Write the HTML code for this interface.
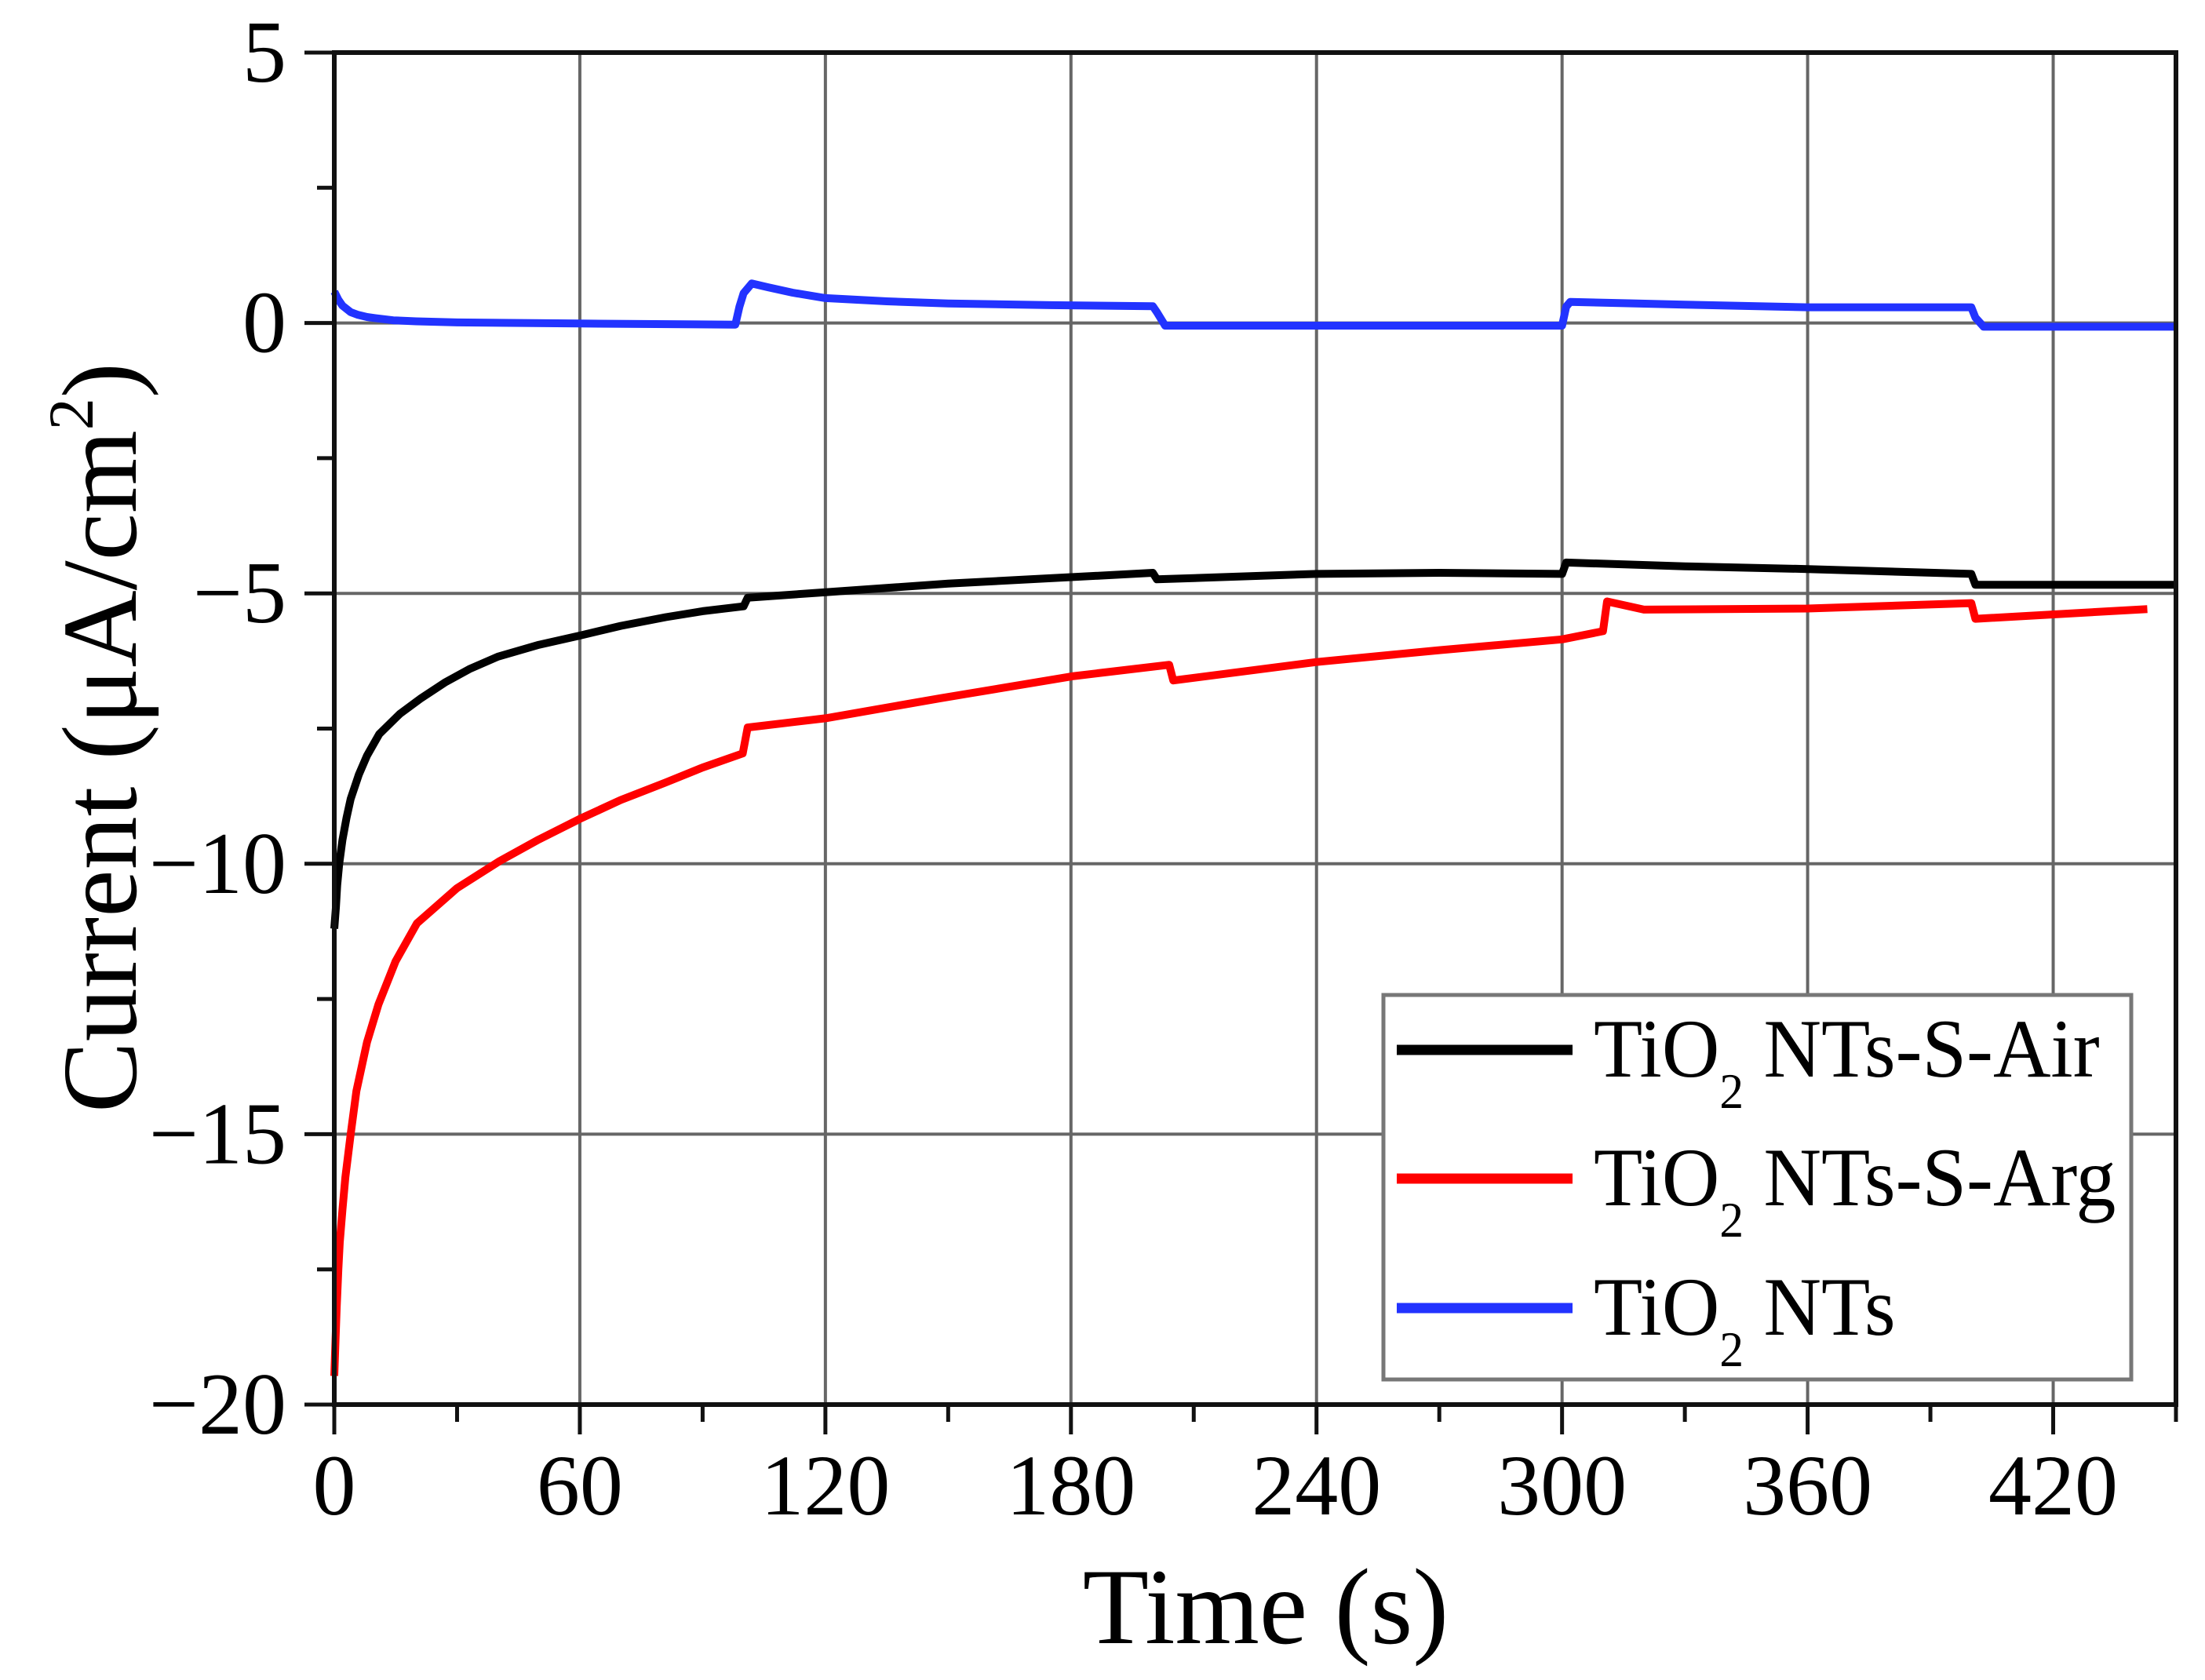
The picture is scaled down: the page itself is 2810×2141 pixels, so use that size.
<!DOCTYPE html>
<html><head><meta charset="utf-8"><style>
html,body{margin:0;padding:0;background:#fff;}
svg{display:block;font-family:"Liberation Serif",serif;}
</style></head><body>
<svg id="chart" width="2810" height="2141" viewBox="0 0 2810 2141" xmlns="http://www.w3.org/2000/svg">
<rect x="0" y="0" width="2810" height="2141" fill="#fff"/>
<g id="grid"></g>
<g id="series"></g>
<g id="axes"></g>
<g id="legend"></g>
<text x="1613" y="2094" font-size="138" text-anchor="middle">Time (s)</text>
<text transform="translate(173,940) rotate(-90)" font-size="136" text-anchor="middle">Current (μA/cm<tspan dy="-55" font-size="82">2</tspan><tspan dy="55">)</tspan></text>
</svg>
<script>
const xTicks = [0, 60, 120, 180, 240, 300, 360, 420];
const xMinorTicks = [30, 90, 150, 210, 270, 330, 390, 450];
const yTicks = [5, 0, -5, -10, -15, -20];
const yMinorTicks = [2.5, -2.5, -7.5, -12.5, -17.5];
const seriesNames = ["TiO2 NTs-S-Air", "TiO2 NTs-S-Arg", "TiO2 NTs"];
const seriesColors = ["#000000", "#ff0000", "#2233ff"];
const airT = [0, 0.4, 0.7, 1.2, 2, 3, 4, 6, 8, 11, 16, 21, 27, 33, 40, 50, 60, 70, 81, 90, 100, 101, 118, 135, 150, 170, 200, 201, 240, 270, 300, 301, 330, 360, 400, 401, 450];
const airV = [-11.2, -10.8, -10.4, -10.0, -9.56, -9.15, -8.8, -8.35, -8.0, -7.6, -7.23, -6.95, -6.65, -6.4, -6.17, -5.95, -5.78, -5.6, -5.44, -5.33, -5.24, -5.08, -4.99, -4.9, -4.82, -4.74, -4.62, -4.74, -4.64, -4.62, -4.64, -4.43, -4.5, -4.55, -4.64, -4.84, -4.84];
const argT = [0, 0.3, 0.6, 1, 1.35, 2, 2.7, 4, 5.4, 8, 10.8, 15, 20.2, 30, 40.4, 50, 60, 70, 80.9, 90, 99.8, 101, 120, 148, 180.7, 204, 205, 240, 270, 300, 310, 311, 320, 360, 400, 401, 443];
const argV = [-19.47, -18.8, -18.2, -17.5, -17.0, -16.4, -15.8, -15.0, -14.2, -13.3, -12.6, -11.8, -11.1, -10.45, -9.95, -9.55, -9.17, -8.82, -8.5, -8.22, -7.96, -7.48, -7.31, -6.94, -6.53, -6.32, -6.61, -6.27, -6.05, -5.85, -5.7, -5.15, -5.3, -5.28, -5.18, -5.47, -5.29];
const ntsT = [0, 1, 2, 4, 5.8, 8, 10, 14.4, 20, 30, 60, 98, 99, 100, 102, 106, 112, 120, 135, 150, 175, 200, 201, 203, 300, 301, 302, 330, 360, 400, 401, 403, 450];
const ntsV = [0.58, 0.43, 0.32, 0.2, 0.15, 0.11, 0.09, 0.05, 0.03, 0.01, -0.01, -0.03, 0.3, 0.55, 0.73, 0.66, 0.56, 0.46, 0.4, 0.36, 0.33, 0.31, 0.2, -0.05, -0.05, 0.3, 0.39, 0.34, 0.29, 0.29, 0.1, -0.07, -0.07];

const NS = "http://www.w3.org/2000/svg";
const X0 = 426, X1 = 2773, Y0 = 67, Y1 = 1790;
const xMin = 0, xMax = 450, yMin = -20, yMax = 5;
function sx(t){ return X0 + (t - xMin) / (xMax - xMin) * (X1 - X0); }
function sy(v){ return Y1 - (v - yMin) / (yMax - yMin) * (Y1 - Y0); }
function mk(tag, attrs, parent){
  const e = document.createElementNS(NS, tag);
  for (const k in attrs) e.setAttribute(k, attrs[k]);
  parent.appendChild(e);
  return e;
}
const grid = document.getElementById('grid');
const axes = document.getElementById('axes');
const seriesG = document.getElementById('series');
const legend = document.getElementById('legend');

xTicks.forEach(t => {
  if (t === 0) return;
  const l = mk('line', {x1: sx(t), x2: sx(t), y1: Y0, y2: Y1, stroke: '#666', 'stroke-width': 4}, grid);
  
  
});
yTicks.forEach(v => {
  if (v === 5 || v === -20) return;
  const l = mk('line', {x1: X0, x2: X1, y1: sy(v), y2: sy(v), stroke: '#666', 'stroke-width': 4}, grid);
  
  
});

function drawSeries(ts, vs, color, name){
  let d = '';
  ts.forEach((t, i) => { d += (i ? 'L' : 'M') + sx(t).toFixed(1) + ' ' + sy(vs[i]).toFixed(1); });
  const p = mk('path', {d: d, fill: 'none', stroke: color, 'stroke-width': 10, 'stroke-linejoin': 'round'}, seriesG);
  
  
}
drawSeries(ntsT, ntsV, seriesColors[2], 'series-tio2-nts');
drawSeries(airT, airV, seriesColors[0], 'series-tio2-nts-s-air');
drawSeries(argT, argV, seriesColors[1], 'series-tio2-nts-s-arg');

const fr = mk('rect', {x: X0, y: Y0, width: X1 - X0, height: Y1 - Y0, fill: 'none', stroke: '#111', 'stroke-width': 6}, axes);



xTicks.forEach(t => {
  const l = mk('line', {x1: sx(t), x2: sx(t), y1: Y1, y2: Y1 + 38, stroke: '#111', 'stroke-width': 5}, axes);
  
  
  const tx = mk('text', {x: sx(t), y: 1930, 'font-size': 110, 'text-anchor': 'middle'}, axes);
  tx.textContent = String(t);
  
  
});
xMinorTicks.forEach(t => {
  const l = mk('line', {x1: sx(t), x2: sx(t), y1: Y1, y2: Y1 + 22, stroke: '#111', 'stroke-width': 5}, axes);
  
  
});
yTicks.forEach(v => {
  const l = mk('line', {x1: X0 - 38, x2: X0, y1: sy(v), y2: sy(v), stroke: '#111', 'stroke-width': 5}, axes);
  
  
  const tx = mk('text', {x: 365, y: sy(v) + 37, 'font-size': 112, 'text-anchor': 'end'}, axes);
  tx.textContent = v < 0 ? '\u2212' + Math.abs(v) : String(v);
  
  
});
yMinorTicks.forEach(v => {
  const l = mk('line', {x1: X0 - 22, x2: X0, y1: sy(v), y2: sy(v), stroke: '#111', 'stroke-width': 5}, axes);
  
  
});

const lb = mk('rect', {x: 1763, y: 1268, width: 953, height: 490, fill: '#fff', stroke: '#777', 'stroke-width': 5}, legend);


const legY = [1338, 1502, 1667];
const legSuffix = [' NTs-S-Air', ' NTs-S-Arg', ' NTs'];
seriesNames.forEach((n, i) => {
  const l = mk('line', {x1: 1780, x2: 2004, y1: legY[i], y2: legY[i], stroke: seriesColors[i], 'stroke-width': 13}, legend);
  
  
  const tx = mk('text', {x: 2031, y: legY[i] + 34, 'font-size': 106, transform: 'translate(2031,0) scale(0.96,1) translate(-2031,0)'}, legend);
  
  
  const a = document.createElementNS(NS, 'tspan'); a.textContent = 'TiO'; tx.appendChild(a);
  const b = document.createElementNS(NS, 'tspan'); b.setAttribute('dy', '40'); b.setAttribute('font-size', '64'); b.textContent = '2'; tx.appendChild(b);
  const c = document.createElementNS(NS, 'tspan'); c.setAttribute('dy', '-40'); c.textContent = legSuffix[i]; tx.appendChild(c);
});
</script>
</body></html>
